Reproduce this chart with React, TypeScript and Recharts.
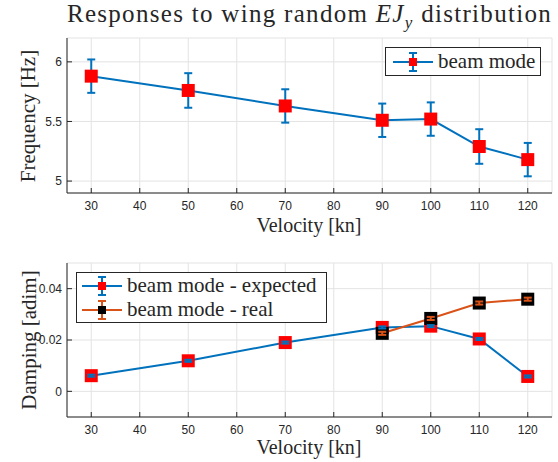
import { ComposedChart, Line, XAxis, YAxis, CartesianGrid, ErrorBar } from 'recharts'

// velocities [kn]
const velocities = [30, 50, 70, 90, 100, 110, 120]
const realVelocities = [90, 100, 110, 120]

// frequency [Hz], beam mode
const freqBeam = [5.88, 5.76, 5.63, 5.51, 5.52, 5.29, 5.18]
const freqErr = [0.14, 0.145, 0.14, 0.14, 0.14, 0.145, 0.14]

// damping [adim]
const dampExpected = [0.0061, 0.0119, 0.019, 0.0249, 0.0254, 0.0204, 0.0058]
const dampExpectedErr = [0.0004, 0.0004, 0.0004, 0.0004, 0.0004, 0.0004, 0.0004]
const dampReal = [0.0226, 0.0284, 0.0344, 0.0359]
const dampRealErr = [0.0006, 0.0006, 0.0006, 0.0006]

const velocityTicks = [30, 40, 50, 60, 70, 80, 90, 100, 110, 120]
const freqTicks = [5, 5.5, 6]
const dampTicks = [0, 0.02, 0.04]

const freqData = velocities.map((v, i) => ({ v, y: freqBeam[i], err: freqErr[i] }))
const expData = velocities.map((v, i) => ({ v, y: dampExpected[i], err: dampExpectedErr[i] }))
const realData = realVelocities.map((v, i) => ({ v, y: dampReal[i], err: dampRealErr[i] }))

const BLUE = '#0072BD'
const ORANGE = '#D95319'
const FRAME = '#262626'
const GRID = '#e3e3e3'
const SERIF = "'Liberation Serif', 'Times New Roman', serif"
const SANS = "'Liberation Sans', Arial, sans-serif"

const tickStyle = { fontSize: 12, fill: FRAME, fontFamily: SANS }

const square = (fill: string, size: number) => (props: any) => {
  const { cx, cy, index } = props
  if (cx == null || cy == null) return <g key={index} />
  return <rect key={index} x={cx - size / 2} y={cy - size / 2} width={size} height={size} fill={fill} />
}

function LegendIcon({ color, marker }: { color: string; marker: string }) {
  return (
    <svg width={44} height={24} style={{ display: 'block' }}>
      <line x1={2} y1={12} x2={42} y2={12} stroke={color} strokeWidth={2} />
      <line x1={22} y1={3} x2={22} y2={21} stroke={color} strokeWidth={2} />
      <line x1={18} y1={3} x2={26} y2={3} stroke={color} strokeWidth={2} />
      <line x1={18} y1={21} x2={26} y2={21} stroke={color} strokeWidth={2} />
      <rect x={18} y={8} width={8} height={8} fill={marker} />
    </svg>
  )
}

function axes(yTicks: number[], yDomain: [number, number], fmt: (v: number) => string) {
  return [
    <XAxis key="xb" xAxisId={0} type="number" dataKey="v" domain={[25, 125]} ticks={velocityTicks}
      allowDataOverflow height={30} tickSize={-5} tickMargin={13} tick={tickStyle}
      axisLine={{ stroke: FRAME }} tickLine={{ stroke: FRAME }} />,
    <XAxis key="xt" xAxisId="top" orientation="top" type="number" dataKey="v" domain={[25, 125]} ticks={velocityTicks}
      allowDataOverflow height={0} tickSize={-5} tick={false}
      axisLine={{ stroke: FRAME }} tickLine={{ stroke: FRAME }} />,
    <YAxis key="yl" yAxisId={0} type="number" domain={yDomain} ticks={yTicks} allowDataOverflow
      width={40} tickSize={-5} tickMargin={10} tick={tickStyle} tickFormatter={fmt}
      axisLine={{ stroke: FRAME }} tickLine={{ stroke: FRAME }} />,
    <YAxis key="yr" yAxisId="right" orientation="right" type="number" domain={yDomain} ticks={yTicks} allowDataOverflow
      width={0} tickSize={-5} tick={false}
      axisLine={{ stroke: FRAME }} tickLine={{ stroke: FRAME }} />,
  ]
}

const labelStyle: React.CSSProperties = {
  position: 'absolute', fontFamily: SERIF, fontSize: 20, color: FRAME, whiteSpace: 'nowrap',
}
const legendText: React.CSSProperties = { fontFamily: SERIF, fontSize: 21, color: FRAME, marginLeft: 3 }

export default function App() {
  return (
    <div style={{ position: 'absolute', left: 0, top: 0, width: 558, height: 462, background: '#fff' }}>
      <div style={{ ...labelStyle, fontSize: 25, letterSpacing: 1.3, left: 0, width: 619, top: 0, textAlign: 'center' }}>
        Responses to wing random <i>EJ</i><sub style={{ fontSize: 17 }}><i>y</i></sub> distribution
      </div>

      <div style={{ position: 'absolute', left: 0, top: 0 }}>
        <ComposedChart width={558} height={231} data={freqData} margin={{ top: 38, right: 6, bottom: 8, left: 27 }}>
          <CartesianGrid stroke={GRID} />
          {axes(freqTicks, [4.9, 6.2], (v) => String(v))}
          <Line dataKey="y" stroke={BLUE} strokeWidth={2} dot={square('#ff0000', 13)} activeDot={false}
            isAnimationActive={false}>
            <ErrorBar dataKey="err" direction="y" width={4} stroke={BLUE} strokeWidth={2} />
          </Line>
        </ComposedChart>
      </div>

      <div style={{ position: 'absolute', left: 0, top: 231 }}>
        <ComposedChart width={558} height={231} margin={{ top: 32, right: 6, bottom: 15, left: 27 }}>
          <CartesianGrid stroke={GRID} />
          {axes(dampTicks, [-0.01, 0.05], (v) => String(v))}
          <Line data={expData} dataKey="y" stroke={BLUE} strokeWidth={2} dot={square('#ff0000', 13)} activeDot={false}
            isAnimationActive={false} />
          <Line data={realData} dataKey="y" stroke={ORANGE} strokeWidth={2} dot={square('#000000', 13)} activeDot={false}
            isAnimationActive={false} />
        </ComposedChart>
      </div>

      {/* error bars drawn above the damping markers */}
      <div style={{ position: 'absolute', left: 0, top: 231, pointerEvents: 'none' }}>
        <ComposedChart width={558} height={231} margin={{ top: 32, right: 6, bottom: 45, left: 67 }}>
          <XAxis type="number" dataKey="v" domain={[25, 125]} allowDataOverflow hide />
          <YAxis type="number" domain={[-0.01, 0.05]} allowDataOverflow hide />
          <Line data={expData} dataKey="y" stroke="none" dot={false} activeDot={false} isAnimationActive={false}>
            <ErrorBar dataKey="err" direction="y" width={4} stroke={BLUE} strokeWidth={2} />
          </Line>
          <Line data={realData} dataKey="y" stroke="none" dot={false} activeDot={false} isAnimationActive={false}>
            <ErrorBar dataKey="err" direction="y" width={4} stroke={ORANGE} strokeWidth={2} />
          </Line>
        </ComposedChart>
      </div>

      <div style={{ ...labelStyle, left: 309, top: 214, transform: 'translateX(-50%)' }}>Velocity [kn]</div>
      <div style={{ ...labelStyle, left: 309, top: 436, transform: 'translateX(-50%)' }}>Velocity [kn]</div>
      <div style={{ ...labelStyle, fontSize: 21, left: 28, top: 116, transform: 'translate(-50%, -50%) rotate(-90deg)' }}>Frequency [Hz]</div>
      <div style={{ ...labelStyle, fontSize: 21, left: 29, top: 340, transform: 'translate(-50%, -50%) rotate(-90deg)' }}>Damping [adim]</div>

      <div style={{ position: 'absolute', left: 385, top: 47, width: 154, height: 27, border: `1px solid ${FRAME}`,
        background: '#fff', display: 'flex', alignItems: 'center' }}>
        <div style={{ marginLeft: 5 }}><LegendIcon color={BLUE} marker="#ff0000" /></div>
        <span style={legendText}>beam mode</span>
      </div>

      <div style={{ position: 'absolute', left: 76, top: 272, width: 249, height: 49, border: `1px solid ${FRAME}`,
        background: '#fff', display: 'flex', flexDirection: 'column', justifyContent: 'center' }}>
        <div style={{ display: 'flex', alignItems: 'center', height: 24 }}>
          <div style={{ marginLeft: 3 }}><LegendIcon color={BLUE} marker="#ff0000" /></div>
          <span style={legendText}>beam mode - expected</span>
        </div>
        <div style={{ display: 'flex', alignItems: 'center', height: 24 }}>
          <div style={{ marginLeft: 3 }}><LegendIcon color={ORANGE} marker="#000000" /></div>
          <span style={legendText}>beam mode - real</span>
        </div>
      </div>
    </div>
  )
}
